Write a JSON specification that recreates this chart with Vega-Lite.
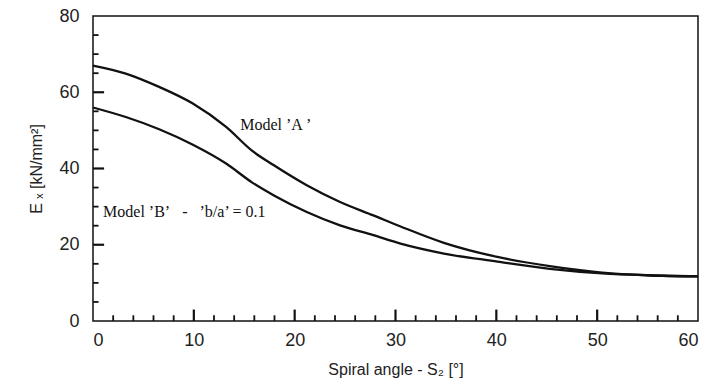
{
  "$schema": "https://vega.github.io/schema/vega-lite/v6.json",
  "width": 605,
  "height": 305,
  "autosize": "none",
  "padding": {"left": 93, "top": 16, "right": 11, "bottom": 68},
  "background": "white",
  "config": {
    "view": {"stroke": "#111", "strokeWidth": 1.5},
    "axis": {"grid": false, "domain": false, "ticks": false, "labelFont": "Liberation Sans", "titleFont": "Liberation Sans", "labelColor": "#222", "titleColor": "#222", "titleFontWeight": "normal"}
  },
  "datasets": {
    "curves": [
      {"angle": 0, "E": 67.0, "model": "A"},
      {"angle": 3.25, "E": 64.9, "model": "A"},
      {"angle": 6.56, "E": 61.4, "model": "A"},
      {"angle": 9.86, "E": 57.1, "model": "A"},
      {"angle": 13.2, "E": 50.9, "model": "A"},
      {"angle": 15.8, "E": 44.6, "model": "A"},
      {"angle": 17.9, "E": 40.9, "model": "A"},
      {"angle": 21.2, "E": 35.6, "model": "A"},
      {"angle": 24.5, "E": 31.2, "model": "A"},
      {"angle": 27.8, "E": 27.7, "model": "A"},
      {"angle": 30.5, "E": 24.8, "model": "A"},
      {"angle": 34.8, "E": 20.5, "model": "A"},
      {"angle": 40.1, "E": 16.8, "model": "A"},
      {"angle": 45.3, "E": 14.4, "model": "A"},
      {"angle": 50.5, "E": 12.7, "model": "A"},
      {"angle": 55, "E": 12.0, "model": "A"},
      {"angle": 60, "E": 11.7, "model": "A"},
      {"angle": 0, "E": 56.0, "model": "B"},
      {"angle": 3.25, "E": 53.5, "model": "B"},
      {"angle": 6.56, "E": 50.3, "model": "B"},
      {"angle": 9.86, "E": 46.3, "model": "B"},
      {"angle": 13.2, "E": 41.3, "model": "B"},
      {"angle": 15.8, "E": 36.3, "model": "B"},
      {"angle": 17.9, "E": 33.0, "model": "B"},
      {"angle": 21.2, "E": 28.6, "model": "B"},
      {"angle": 24.5, "E": 25.1, "model": "B"},
      {"angle": 27.8, "E": 22.5, "model": "B"},
      {"angle": 30.5, "E": 20.3, "model": "B"},
      {"angle": 34.8, "E": 17.7, "model": "B"},
      {"angle": 40.1, "E": 15.6, "model": "B"},
      {"angle": 45.3, "E": 13.7, "model": "B"},
      {"angle": 50.5, "E": 12.5, "model": "B"},
      {"angle": 55, "E": 12.0, "model": "B"},
      {"angle": 60, "E": 11.7, "model": "B"}
    ],
    "notes": [
      {"angle": 14.6, "E": 51.4, "label": "Model ’A ’"},
      {"angle": 1.0, "E": 28.6, "label": "Model ’B’\u00a0\u00a0 -\u00a0\u00a0 ’b/a’ = 0.1"}
    ],
    "xmajor": [{"v": 10}, {"v": 20}, {"v": 30}, {"v": 40}, {"v": 50}],
    "xminor": [{"v": 2}, {"v": 4}, {"v": 6}, {"v": 8}, {"v": 12}, {"v": 14}, {"v": 16}, {"v": 18}, {"v": 22}, {"v": 24}, {"v": 26}, {"v": 28}, {"v": 32}, {"v": 34}, {"v": 36}, {"v": 38}, {"v": 42}, {"v": 44}, {"v": 46}, {"v": 48}, {"v": 52}, {"v": 54}, {"v": 56}, {"v": 58}],
    "ymajor": [{"v": 20}, {"v": 40}, {"v": 60}],
    "yminor": [{"v": 5}, {"v": 10}, {"v": 15}, {"v": 25}, {"v": 30}, {"v": 35}, {"v": 45}, {"v": 50}, {"v": 55}, {"v": 65}, {"v": 70}, {"v": 75}]
  },
  "layer": [
    {
      "data": {"name": "curves"},
      "mark": {"type": "line", "color": "#111", "strokeWidth": 2.3, "interpolate": "monotone"},
      "encoding": {
        "x": {"field": "angle", "type": "quantitative", "scale": {"domain": [0, 60], "nice": false},
          "axis": {"orient": "bottom", "values": [0, 10, 20, 30, 40, 50, 60], "labelPadding": 10, "labelFontSize": 18, "title": "Spiral angle  - S₂ [°]", "titleFontSize": 16, "titlePadding": 12}},
        "y": {"field": "E", "type": "quantitative", "scale": {"domain": [0, 80], "nice": false},
          "axis": {"orient": "left", "values": [0, 20, 40, 60, 80], "labelPadding": 14, "labelFontSize": 18, "title": "E ₓ [kN/mm²]", "titleFontSize": 16, "titlePadding": 14}},
        "detail": {"field": "model"}
      }
    },
    {
      "data": {"name": "xmajor"},
      "mark": {"type": "rule", "color": "#111", "strokeWidth": 2.2},
      "encoding": {
        "x": {"field": "v", "type": "quantitative"},
        "y": {"datum": 0},
        "y2": {"datum": 3}
      }
    },
    {
      "data": {"name": "xminor"},
      "mark": {"type": "rule", "color": "#111", "strokeWidth": 1.8},
      "encoding": {
        "x": {"field": "v", "type": "quantitative"},
        "y": {"datum": 0},
        "y2": {"datum": 1.5}
      }
    },
    {
      "data": {"name": "ymajor"},
      "mark": {"type": "rule", "color": "#111", "strokeWidth": 2.2},
      "encoding": {
        "y": {"field": "v", "type": "quantitative"},
        "x": {"datum": 0},
        "x2": {"datum": 1.1}
      }
    },
    {
      "data": {"name": "yminor"},
      "mark": {"type": "rule", "color": "#111", "strokeWidth": 1.8},
      "encoding": {
        "y": {"field": "v", "type": "quantitative"},
        "x": {"datum": 0},
        "x2": {"datum": 0.55}
      }
    },
    {
      "data": {"name": "notes"},
      "mark": {"type": "text", "font": "Liberation Serif", "fontSize": 16, "align": "left", "baseline": "middle", "color": "#111"},
      "encoding": {
        "x": {"field": "angle", "type": "quantitative"},
        "y": {"field": "E", "type": "quantitative"},
        "text": {"field": "label"}
      }
    }
  ]
}
